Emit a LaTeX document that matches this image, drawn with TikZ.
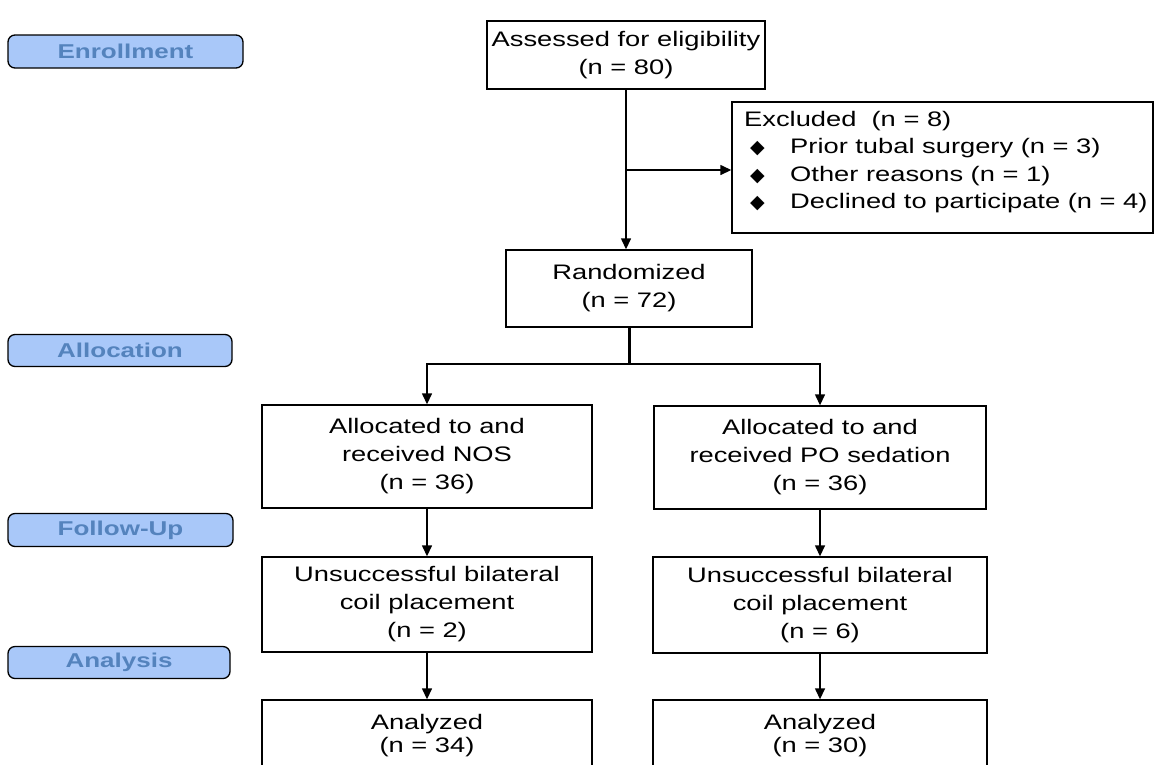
\documentclass[tikz,border=0pt]{standalone}
\usepackage{fontspec}
\setmainfont{Liberation Sans}
\newfontfamily\bfont[FakeStretch=1.3]{Liberation Sans}
\newfontfamily\dfont{DejaVu Sans}
\usetikzlibrary{arrows.meta}
\definecolor{stagefill}{HTML}{A9C8F9}
\definecolor{stagetext}{HTML}{5483BD}
\newcommand{\bul}{\hspace*{6pt}\makebox[40pt][l]{\raisebox{0pt}{\dfont\fontsize{19}{19}\selectfont ◆}}}
\tikzset{
  box/.style={draw, line width=1.4pt, align=center, inner sep=0pt,
    font=\bfont\fontsize{21}{28}\selectfont},
  stage/.style={draw, line width=1.3pt, rounded corners=7pt, fill=stagefill,
    text=stagetext, inner sep=0pt, font=\bfont\bfseries\fontsize{20}{24}\selectfont},
  conn/.style={line width=1.4pt},
  arr/.style={conn, -{Triangle[length=11pt,width=10pt]}},
}
\begin{document}
\begin{tikzpicture}[x=1pt,y=-1pt]
\useasboundingbox (0,0) rectangle (1155,764);
\clip (0,0) rectangle (1155,764);
% stage labels
\node[stage, minimum width=235pt, minimum height=33pt] (enr) at (125.5,51.5) {Enrollment};
\node[stage, minimum width=224pt, minimum height=32pt] (alloc) at (120,350.5) {Allocation};
\node[stage, minimum width=225pt, minimum height=33pt] (fol) at (120.5,530) {Follow-Up};
\node[stage, minimum width=222pt, minimum height=32pt] (anl) at (119,662.5) {Analysis};
% main boxes
\node[box, minimum width=278pt, minimum height=68pt] (ass) at (626,55) {Assessed for eligibility\\(n = 80)};
\node[box, minimum width=421pt, minimum height=131pt] (exc) at (942.5,167.5) {};
\node[anchor=north west, align=left, inner sep=0pt, font=\bfont\fontsize{21}{27.5}\selectfont] (exctext) at (744,111)
  {Excluded\ \ (n = 8)\\\bul Prior tubal surgery (n = 3)\\\bul Other reasons (n = 1)\\\bul Declined to participate (n = 4)};
\node[box, minimum width=246pt, minimum height=77pt] (rand) at (629,288.5) {Randomized\\(n = 72)};
\node[box, minimum width=330pt, minimum height=103pt] (nos) at (427,456.5) {Allocated to and\\received NOS\\(n = 36)};
\node[box, minimum width=332pt, minimum height=103pt] (po) at (820,457.5) {Allocated to and\\received PO sedation\\(n = 36)};
\node[box, minimum width=330pt, minimum height=95pt] (unsl) at (427,604.5) {Unsuccessful bilateral\\coil placement\\(n = 2)};
\node[box, minimum width=334pt, minimum height=96pt] (unsr) at (820,605) {Unsuccessful bilateral\\coil placement\\(n = 6)};
\node[box, minimum width=330pt, minimum height=71pt, font=\bfont\fontsize{21}{23}\selectfont] (anal) at (427,735.5) {Analyzed\\(n = 34)};
\node[box, minimum width=334pt, minimum height=71pt, font=\bfont\fontsize{21}{23}\selectfont] (anar) at (820,735.5) {Analyzed\\(n = 30)};
% connectors
\draw[arr] (ass.south) -- (ass.south |- rand.north);
\coordinate (excb) at (626,170);
\draw[arr] (excb) -- (excb -| exc.west);
\coordinate (split) at (629,364);
\draw[line width=3pt] (rand.south) -- (split);
\draw[arr] (split) -| (nos.north);
\draw[arr] (split) -| (po.north);
\draw[arr] (nos.south) -- (unsl.north);
\draw[arr] (po.south) -- (unsr.north);
\draw[arr] (unsl.south) -- (anal.north);
\draw[arr] (unsr.south) -- (anar.north);
\end{tikzpicture}
\end{document}
